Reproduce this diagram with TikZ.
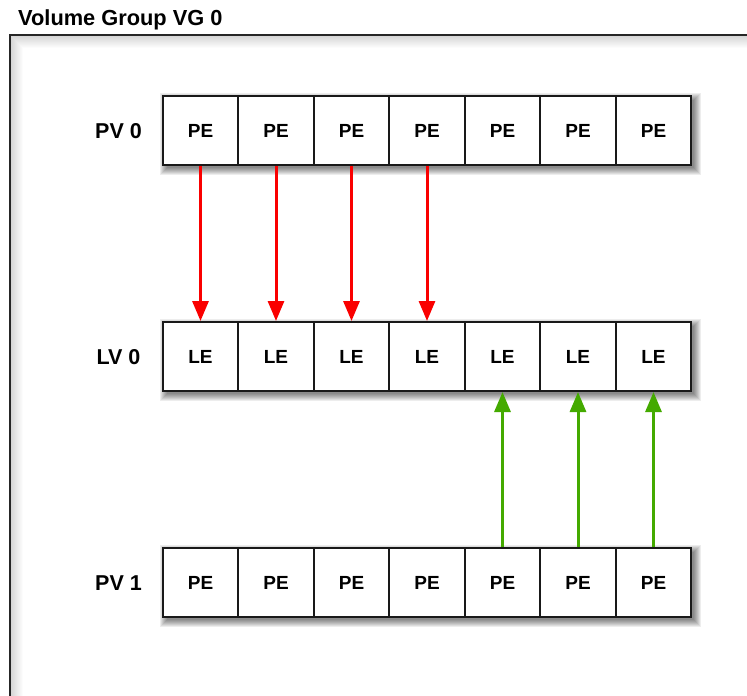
\documentclass[tikz,border=0pt]{standalone}
\usepackage{fontspec}
\setmainfont{Liberation Sans}
\usetikzlibrary{arrows.meta}
\definecolor{arrred}{RGB}{250,0,0}
\definecolor{arrgreen}{RGB}{68,170,0}
\begin{document}
\begin{tikzpicture}[x=1pt,y=-1pt,
  cell/.style={draw=black!90, line width=2pt, fill=white, minimum height=69pt, inner sep=0pt, font=\fontsize{19}{22}\selectfont\bfseries},
  rowlabel/.style={font=\fontsize{21.5}{25}\selectfont\bfseries, inner sep=0pt},
  redarrow/.style={draw=arrred, line width=3pt, -{Triangle[width=16pt,length=20pt]}},
  greenarrow/.style={draw=arrgreen, line width=3pt, -{Triangle[width=16pt,length=20pt]}},
  frameline/.style={draw=black!85, line width=1.6pt}]
\useasboundingbox (0,0) rectangle (747,696);
\clip (0,0) rectangle (747,696);
\fill[white] (0,0) rectangle (747,696);
% frame inner shadow
\foreach \k in {1,...,12}{
  \pgfmathsetmacro\op{0.16*(13-\k)/12}
  \draw[black, opacity=\op, line width=1pt] ({10.5+\k},700) -- ({10.5+\k},{35.5+\k}) -- (760,{35.5+\k});
}
\draw[frameline] (10,720) -- (10,35) -- (770,35);
\node[anchor=base west, font=\fontsize{21.8}{26}\selectfont\bfseries, inner sep=0pt] (title) at (18,25) {Volume Group VG 0};
% rows
\foreach \r/\yc/\txt in {pvz/130.5/PE, lvz/356.5/LE, pvo/582.5/PE}{
  \foreach \k in {0,...,7}{
    \fill[black, opacity=0.07] ({163+4-\k},{\yc-34.5+4-\k}) rectangle ({691+3+\k},{\yc+34.5+3+\k});
  }
  \foreach \i/\a/\b in {1/163/238,2/238/314,3/314/389,4/389/465,5/465/540,6/540/616,7/616/691}{
    \node[cell, minimum width={(\b-\a)*1pt}] (\r-\i) at ({(\a+\b)/2},\yc) {\txt};
  }
}
\node[rowlabel] (lpv0) at (118.5,131) {PV 0};
\node[rowlabel] (llv0) at (118.5,357) {LV 0};
\node[rowlabel] (lpv1) at (118.5,583) {PV 1};
% arrows
\foreach \i in {1,...,4}{
  \draw[redarrow] (pvz-\i.south) -- (lvz-\i.north);
}
\foreach \i in {5,6,7}{
  \draw[greenarrow] (pvo-\i.north) -- (lvz-\i.south);
}
\end{tikzpicture}
\end{document}
